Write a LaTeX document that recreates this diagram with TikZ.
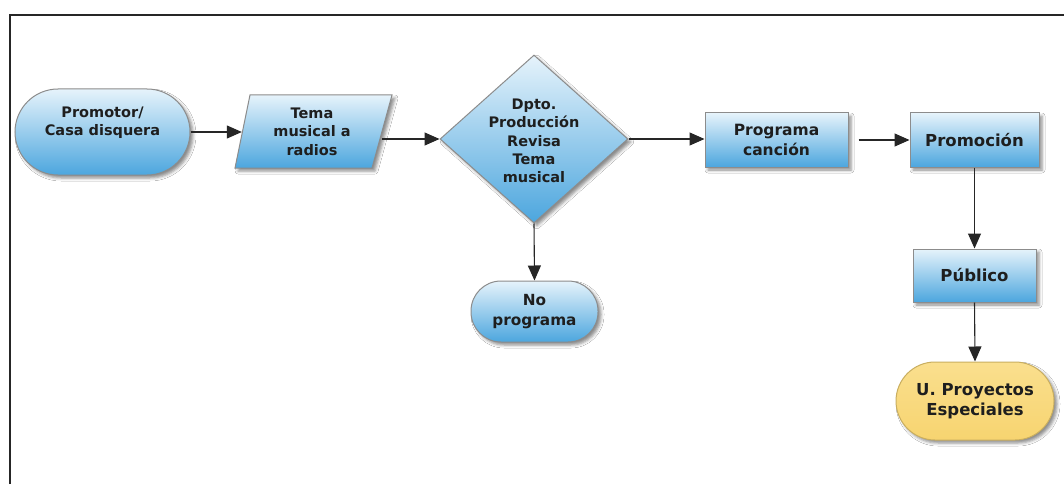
\documentclass[tikz,border=0pt]{standalone}
\usepackage{fontspec}
\setmainfont{DejaVu Sans}
\usetikzlibrary{shapes.geometric,shadows.blur,arrows.meta}

\definecolor{boxtop}{HTML}{E6F3FB}
\definecolor{boxmid}{HTML}{A6D2EF}
\definecolor{boxbot}{HTML}{4CA6DE}
\definecolor{edgegray}{HTML}{8C8C8C}
\definecolor{inkdark}{HTML}{1E1E1E}
\definecolor{sandtop}{HTML}{FADF8E}
\definecolor{sandbot}{HTML}{F7D470}
\definecolor{sandedge}{HTML}{C9AE5F}

\tikzset{
  dropshade/.style={blur shadow={shadow xshift=3pt, shadow yshift=-3pt,
                    shadow blur radius=3pt, shadow opacity=45}},
  bluefill/.style={top color=boxtop, middle color=boxmid, bottom color=boxbot,
                   draw=edgegray, line width=1pt, dropshade},
  label/.style={font=\bfseries, text=inkdark, align=center, inner sep=0pt},
  procbox/.style={bluefill, rectangle, inner sep=0pt, label},
  terminal/.style={bluefill, rectangle, inner sep=0pt, label},
  flow/.style={line width=1.1pt, draw=black!85,
               -{Triangle[length=15pt,width=13pt]}},
}

\begin{document}
\begin{tikzpicture}[x=1pt,y=-1pt]
  \useasboundingbox (0,0) rectangle (1064,484);
  \fill[white] (0,0) rectangle (1064,484);

  % outer frame (only left and top edges fall inside the page)
  \draw[line width=2pt, black!85] (9.5,484) -- (9.5,15.5) -- (1064,15.5);

  % start terminal
  \node[terminal, minimum width=175pt, minimum height=86pt,
        rounded corners=43pt] (prom) at (102.5,132) {};
  \node[label, font=\bfseries\fontsize{14.5}{18.5}\selectfont]
        (promtxt) at (102.5,122.5) {Promotor/\\Casa disquera};

  % input/output (parallelogram), outline first, then its text
  \path[bluefill] (250,95) -- (392,95) -- (372,168) -- (235,168) -- cycle;
  \node[label, minimum width=140pt, minimum height=73pt,
        font=\bfseries\fontsize{14.5}{18.5}\selectfont]
        (tema) at (312,131.5) {Tema\\musical a\\radios};

  % decision
  \node[bluefill, diamond, minimum width=188pt, minimum height=168pt,
        inner sep=0pt] (dp) at (534,139) {};
  \node[label, font=\bfseries\fontsize{14.5}{18.3}\selectfont]
        (dptxt) at (534,141) {Dpto.\\Producción\\Revisa\\Tema\\musical};

  % rejected branch
  \node[terminal, minimum width=127pt, minimum height=61pt,
        rounded corners=30pt, font=\bfseries\fontsize{15.3}{20}\selectfont]
        (nop) at (534.5,311.5) {No\\programa};

  % process boxes
  \node[procbox, minimum width=143pt, minimum height=54pt,
        font=\bfseries\fontsize{15.5}{20}\selectfont]
        (prog) at (776.5,140) {Programa\\canción};
  \node[procbox, minimum width=129pt, minimum height=54pt,
        font=\bfseries\fontsize{16.5}{20}\selectfont]
        (promo) at (974.5,140) {Promoción};
  \node[procbox, minimum width=123pt, minimum height=53pt,
        font=\bfseries\fontsize{16.5}{20}\selectfont]
        (pub) at (974.5,275.5) {Público};

  % end terminal
  \node[rectangle, inner sep=0pt, label, top color=sandtop, bottom color=sandbot,
        draw=sandedge, line width=1pt, dropshade,
        minimum width=158pt, minimum height=78pt, rounded corners=39pt,
        font=\bfseries\fontsize{16.5}{20}\selectfont]
        (upe) at (975,401) {U. Proyectos\\Especiales};

  % connectors
  \draw[flow] (prom.east) -- (tema.west |- prom.east);
  \draw[flow] (tema.east |- dp.west) -- (dp.west);
  \draw[flow] (dp.east) -- (prog.west |- dp.east);
  \draw[flow, shorten <=10pt] (prog.east) -- (promo.west);
  \draw[flow] (dp.south) -- (nop.north);
  \draw[flow] (promo.south) -- (pub.north);
  \draw[flow] (pub.south) -- (upe.north);
\end{tikzpicture}
\end{document}
